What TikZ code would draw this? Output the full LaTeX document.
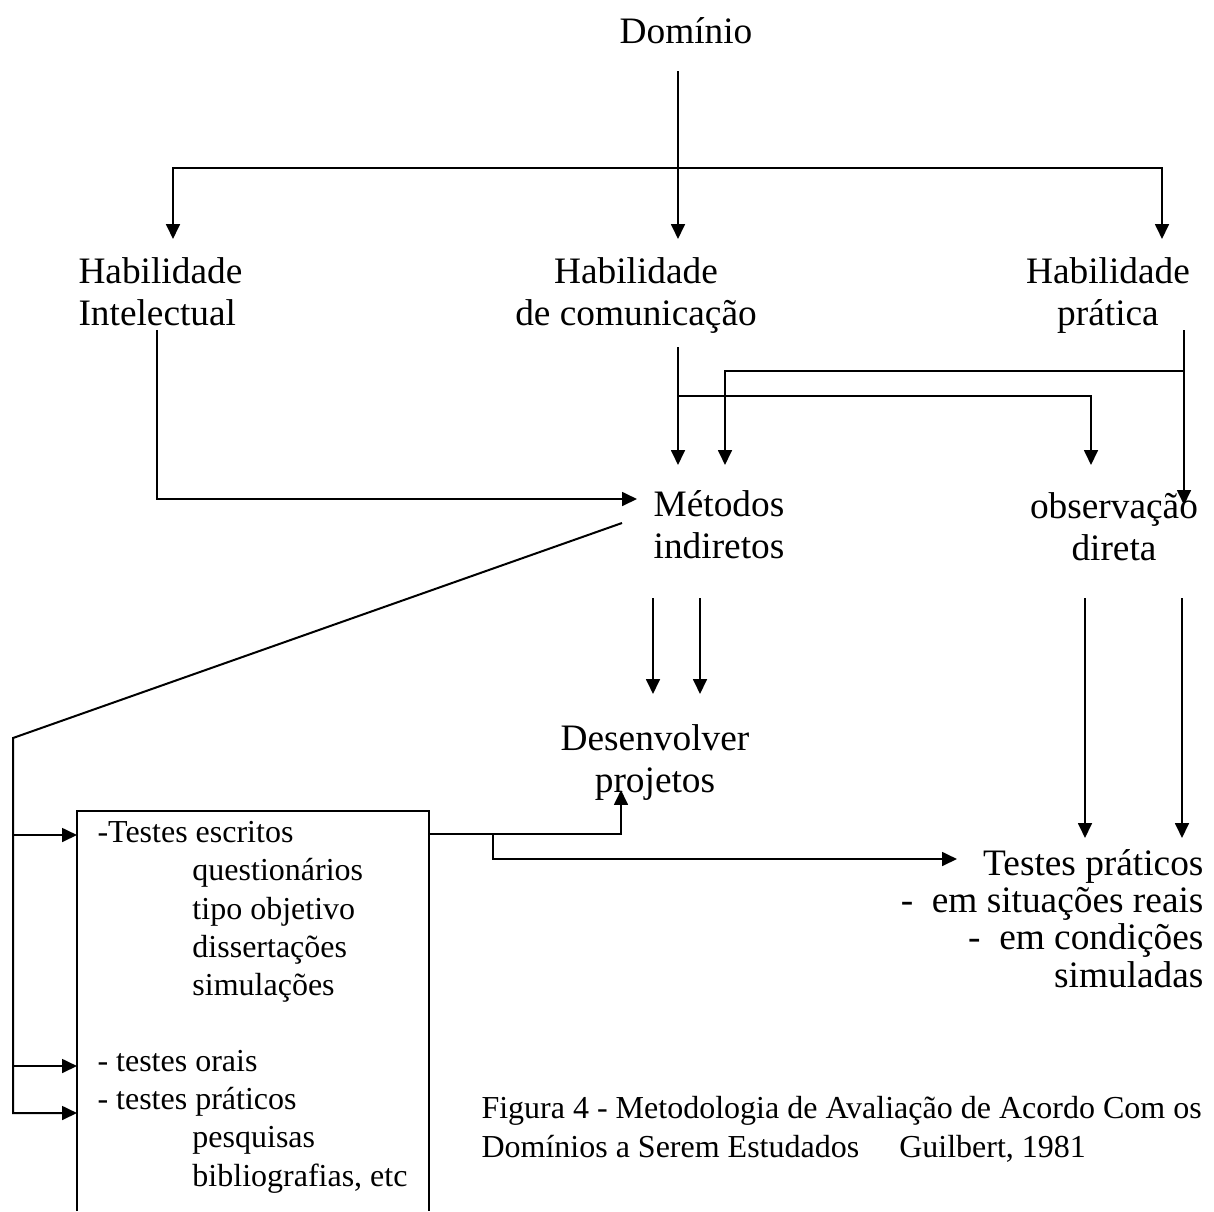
\documentclass[tikz,border=0pt]{standalone}
\usepackage{fontspec}
\setmainfont{Liberation Serif}
\usetikzlibrary{arrows.meta}

\tikzset{
  linha/.style={line width=0.75pt},
  seta/.style={line width=0.75pt,-{Triangle[length=5.6pt,width=5.2pt]}},
  grande/.style={inner sep=0pt,font=\fontsize{14}{15.75}\selectfont},
  pequeno/.style={inner sep=0pt,font=\fontsize{12}{14.3}\selectfont},
}

\begin{document}
\begin{tikzpicture}[x=0.375pt,y=-0.375pt]
		\useasboundingbox (0,0) rectangle (1214,1211);
		% Textos (base = linha de baixo)
		\node[grande,anchor=base] (dom) at (686,43) {Domínio};
		\node[grande,anchor=base west,align=left] (hint) at (78,325) {Habilidade\\Intelectual};
		\node[grande,anchor=base,align=center] (hcom) at (636,325) {Habilidade\\de comunicação};
		\node[grande,anchor=base,align=center] (hpra) at (1108,325) {Habilidade\\prática};
		\node[grande,anchor=base,align=center] (met) at (719,558) {Métodos\\indiretos};
		\node[grande,anchor=base,align=center] (obs) at (1114,560) {observação\\direta};
		\node[grande,anchor=base,align=center] (des) at (655,792) {Desenvolver\\projetos};
		\node[grande,anchor=base east,align=right,font=\fontsize{14}{13.9}\selectfont] (tprat) at (1204,987)
			{Testes práticos\\-\ \ em situações reais\\-\ \ em condições\\simuladas};
		\node[pequeno,anchor=base west,align=left] (tesc) at (97,1186)
			{-Testes escritos\\
			\hspace*{35.6pt}questionários\\
			\hspace*{35.6pt}tipo objetivo\\
			\hspace*{35.6pt}dissertações\\
			\hspace*{35.6pt}simulações\\[14.3pt]
			- testes orais\\
			- testes práticos\\
			\hspace*{35.6pt}pesquisas\\
			\hspace*{35.6pt}bibliografias, etc};
		\node[pequeno,anchor=base west,align=left] (fig) at (481,1157)
			{Figura 4 - Metodologia de Avaliação de Acordo Com os\\
			Domínios a Serem Estudados\hspace{15pt}Guilbert, 1981};
		% Caixa dos testes (aberta embaixo)
		\draw[linha] (77,1211) -- (77,811) -- (429,811) -- (429,1211);
		% Dominio -> habilidades
		\draw[seta] (678,71) -- (678,239);
		\draw[seta] (678,168) -| (173,239);
		\draw[seta] (678,168) -| (1162,239);
		% Habilidades -> metodos / observacao
		\draw[seta] (157,330) |- (637,499);
		\draw[seta] (678,347) -- (678,465);
		\draw[seta] (678,396) -| (1091,465);
		\draw[seta] (1184,330) -- (1184,505);
		\draw[seta] (1184,371) -| (725,465);
		% Metodos indiretos -> testes
		\draw[seta] (622,523) -- (13,738) -- (13,1113) -- (77,1113);
		\draw[seta] (13,835) -- (77,835);
		\draw[seta] (13,1066) -- (77,1066);
		\draw[seta] (653,598) -- (653,694);
		\draw[seta] (700,598) -- (700,694);
		% Observacao direta -> testes praticos
		\draw[seta] (1085,598) -- (1085,838);
		\draw[seta] (1182,598) -- (1182,838);
		% Caixa -> projetos / testes praticos
		\draw[seta] (429,834) -| (621,790);
		\draw[seta] (493,834) |- (957,859);
\end{tikzpicture}
\end{document}
